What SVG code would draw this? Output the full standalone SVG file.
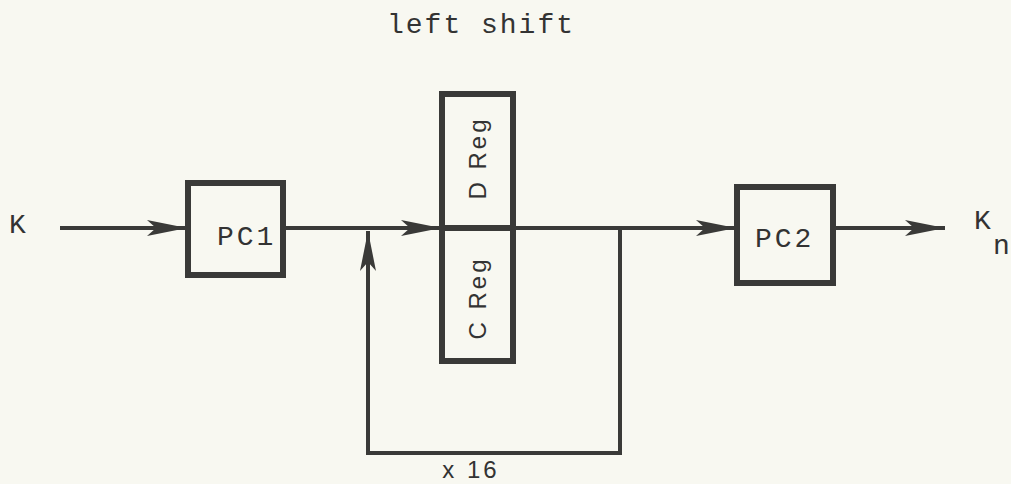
<svg xmlns="http://www.w3.org/2000/svg" width="1011" height="484" viewBox="0 0 1011 484">
<style>
.box{fill:none;stroke:#3a3a38;stroke-width:6}
.ln{fill:none;stroke:#3a3a38;stroke-width:4}
.t{font-family:"Liberation Mono",monospace;font-size:28px;fill:#333}
.h{font-family:"Liberation Sans",sans-serif;font-size:24px;fill:#333;letter-spacing:3px}
</style>
<defs>
<marker id="ah" markerWidth="40" markerHeight="16" refX="40" refY="8" orient="auto" markerUnits="userSpaceOnUse">
<path d="M0,0 L40,8 L0,16 L9,8 Z" fill="#3a3a38"/>
</marker>
</defs>
<rect width="1011" height="484" fill="#f8f8f1"/>
<text class="t" x="387" y="33" style="letter-spacing:2px">left shift</text>
<g id="connectors">
<line class="ln" x1="60" y1="228" x2="187" y2="228" marker-end="url(#ah)"/>
<line class="ln" x1="283" y1="228" x2="441" y2="228" marker-end="url(#ah)"/>
<line class="ln" x1="513" y1="228" x2="736" y2="228" marker-end="url(#ah)"/>
<line class="ln" x1="833" y1="228" x2="945" y2="228" marker-end="url(#ah)"/>
<polyline class="ln" points="620,228 620,453 368,453 368,231" marker-end="url(#ah)"/>
</g>
<g id="input"><text class="t" x="9" y="233">K</text></g>
<g id="pc1">
<rect class="box" x="188" y="183" width="95" height="92"/>
<text class="t" x="217" y="245" style="letter-spacing:3px">PC1</text>
</g>
<g id="dreg">
<rect class="box" x="442" y="94" width="71" height="134"/>
<text class="h" transform="translate(486,158) rotate(-90)" text-anchor="middle">D Reg</text>
</g>
<g id="creg">
<rect class="box" x="442" y="228" width="71" height="133"/>
<text class="h" transform="translate(486,298) rotate(-90)" text-anchor="middle">C Reg</text>
</g>
<g id="pc2">
<rect class="box" x="737" y="187" width="96" height="96"/>
<text class="t" x="755" y="247" style="letter-spacing:3px">PC2</text>
</g>
<g id="output">
<text class="t" x="974" y="229">K</text>
<text class="t" x="993" y="254">n</text>
</g>
<text class="h" x="471" y="478" text-anchor="middle">x 16</text>
</svg>
